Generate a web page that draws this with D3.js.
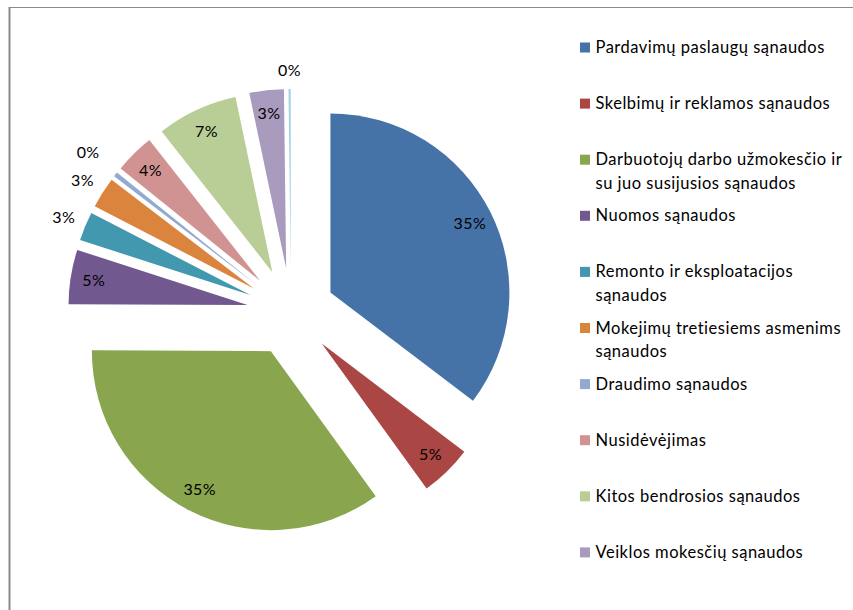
<!DOCTYPE html>
<html>
<head>
<meta charset="utf-8">
<script src="https://cdn.jsdelivr.net/npm/d3@7"></script>
<style>
  body { margin: 0; background: #fff; }
  text { font-family: Lato, "Open Sans", sans-serif; fill: #000; }
</style>
</head>
<body>
<script>
// categories, in the order the slices go round (clockwise from 12 o'clock)
var categories = [
  "Pardavimų paslaugų sąnaudos",
  "Skelbimų ir reklamos sąnaudos",
  "Darbuotojų darbo užmokesčio ir su juo susijusios sąnaudos",
  "Nuomos sąnaudos",
  "Remonto ir eksploatacijos sąnaudos",
  "Mokejimų tretiesiems asmenims sąnaudos",
  "Draudimo sąnaudos",
  "Nusidėvėjimas",
  "Kitos bendrosios sąnaudos",
  "Veiklos mokesčių sąnaudos",
  ""
];

// shares in percent
var values = [35.3, 4.7, 35.0, 4.9, 2.6, 2.8, 0.4, 3.6, 7.3, 3.1, 0.2];

var colors = ["#4572a7", "#aa4643", "#89a54e", "#71588f", "#4198af", "#db843d",
              "#93a9cf", "#d19392", "#b9cd96", "#a99bbd", "#a3d3e0"];

var w = 853, h = 610;
var cx = 291, cy = 312; // pie centre
var r = 179;            // slice radius
var explode = 44;       // how far every slice is pulled out

var svg = d3.select("body").append("svg")
  .attr("width", w)
  .attr("height", h);

// frame (only top and left edge show in the picture)
svg.append("line").attr("x1", 9).attr("x2", w).attr("y1", 7.5).attr("y2", 7.5)
  .attr("stroke", "#8a8a8a").attr("stroke-width", 1.2);
svg.append("line").attr("x1", 9.5).attr("x2", 9.5).attr("y1", 7).attr("y2", h)
  .attr("stroke", "#8a8a8a").attr("stroke-width", 2);

var total = d3.sum(values);

var pie = d3.pie().sort(null).value(function(d){ return d; });
var arcs = pie(values);

var arc = d3.arc().innerRadius(0).outerRadius(r);

function midAngle(d) { return (d.startAngle + d.endAngle) / 2; }

function offset(d, dist) { // point along the middle of a slice
  var a = midAngle(d);
  return [Math.sin(a) * dist, -Math.cos(a) * dist];
}

var pieG = svg.append("g").attr("transform", "translate(" + cx + "," + cy + ")");

var slices = pieG.selectAll("g.slice")
  .data(arcs)
  .enter()
  .append("g")
  .attr("class", "slice")
  .attr("transform", function(d){
    var o = offset(d, explode);
    return "translate(" + o[0] + "," + o[1] + ")";
  });

slices.append("path")
  .attr("d", arc)
  .attr("fill", function(d, i){ return colors[i]; });

// percent labels: inside for bigger slices, outside for tiny ones
var placed = []; // outside labels already put down (in pie coords)

slices.append("text")
  .attr("text-anchor", "middle")
  .attr("dy", "0.35em")
  .attr("font-size", "16px")
  .attr("letter-spacing", "0.4px")
  .text(function(d){ return Math.round(d.data / total * 100) + "%"; })
  .attr("transform", function(d){
    var pct = d.data / total * 100;
    if (pct >= 3) {
      var o = offset(d, r * 0.87);
      return "translate(" + o[0] + "," + o[1] + ")";
    }
    // outside: keep the box edge a small gap away from the arc
    var bb = this.getBBox();
    var a = midAngle(d);
    var dist = r + 9 + Math.abs(Math.sin(a)) * bb.width / 2 + Math.abs(Math.cos(a)) * bb.height / 2;
    var e = offset(d, explode);
    var p = offset(d, dist);
    // push further out while it crowds a neighbour
    var clash = function(){
      return placed.some(function(q){
        return Math.abs(q[1] - (p[1] + e[1])) < 27 && Math.abs(q[0] - (p[0] + e[0])) < bb.width + 4;
      });
    };
    while (clash()) { dist += 1; p = offset(d, dist); }
    placed.push([p[0] + e[0], p[1] + e[1]]);
    return "translate(" + p[0] + "," + p[1] + ")";
  });

// legend
var legX = 580, legY = 42.5, legStep = 56.1, maxW = 256;

var leg = svg.selectAll("g.leg")
  .data(categories.filter(function(c){ return c !== ""; }))
  .enter()
  .append("g")
  .attr("class", "leg")
  .attr("transform", function(d, i){ return "translate(" + legX + "," + (legY + i * legStep) + ")"; });

leg.append("rect")
  .attr("width", 10)
  .attr("height", 10)
  .attr("fill", function(d, i){ return colors[i]; });

leg.append("text")
  .attr("x", 15.5)
  .attr("y", 10.5)
  .attr("font-size", "16.5px")
  .attr("letter-spacing", "0.5px")
  .each(function(d){
    var t = d3.select(this);
    var words = d.split(" ");
    var line = [];
    var tspan = t.append("tspan").attr("x", 15.5).attr("dy", 0);
    words.forEach(function(word){
      line.push(word);
      tspan.text(line.join(" "));
      if (tspan.node().getComputedTextLength() > maxW && line.length > 1) {
        line.pop();
        tspan.text(line.join(" "));
        line = [word];
        tspan = t.append("tspan").attr("x", 15.5).attr("dy", 23.5).text(word);
      }
    });
  });
</script>
</body>
</html>
